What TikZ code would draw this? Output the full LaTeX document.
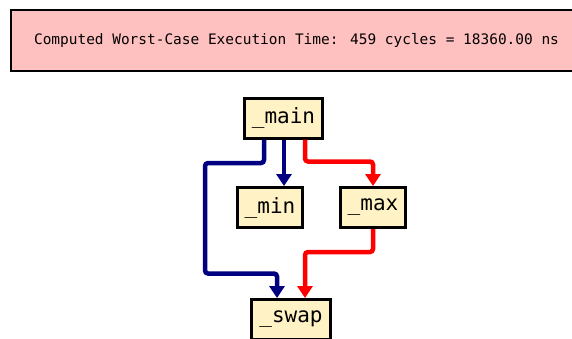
\documentclass[tikz,border=0pt]{standalone}
\usepackage{fontspec}
\newfontfamily\monofont{DejaVu Sans Mono}
\usetikzlibrary{arrows.meta}
\definecolor{bannerpink}{HTML}{FFC0C0}
\definecolor{boxyellow}{HTML}{FFF2C4}
\definecolor{callblue}{HTML}{000080}
\definecolor{callred}{HTML}{FF0000}
\tikzset{
  banner/.style={draw=black, line width=2pt, fill=bannerpink, inner sep=0pt,
    minimum width=571pt, minimum height=61pt, font=\monofont\fontsize{14.45pt}{16pt}\selectfont},
  fn/.style={draw=black, line width=3pt, fill=boxyellow, inner sep=0pt,
    minimum height=40pt, font=\monofont\fontsize{21pt}{24pt}\selectfont},
  call/.style={line width=4.5pt, rounded corners=3pt,
    -{Triangle[width=15pt,length=12pt]}},
  bluecall/.style={call, draw=callblue},
  redcall/.style={call, draw=callred},
}
\begin{document}
\begin{tikzpicture}[x=1pt,y=-1pt]
\useasboundingbox (0,0) rectangle (572,338);
\clip (0,0) rectangle (572,338);
% result banner
\node[banner] (banner) at (296.5,40) {Computed Worst-Case Execution Time: 459 cycles = 18360.00 ns};
% call graph nodes
\node[fn, minimum width=78pt] (main) at (283.5,118) {\_main};
\node[fn, minimum width=65pt] (min) at (270,207.5) {\_min};
\node[fn, minimum width=65pt] (max) at (373,207.5) {\_max};
\node[fn, minimum width=79pt] (swap) at (291,319.5) {\_swap};
% coordinates for the bends
\coordinate (bA) at (205,163);
\coordinate (bB) at (305,252);
% calls from _main
\draw[bluecall] ([xshift=-19.5pt]main.south) |- (bA) |- ([xshift=-14pt,yshift=24.5pt]swap.north) -- ([xshift=-14pt]swap.north);
\draw[bluecall] ([xshift=0.5pt]main.south) -- ([xshift=0.5pt]main.south |- min.north);
\draw[redcall] ([xshift=21.5pt]main.south) |- ([yshift=24.5pt]max.north) -- (max.north);
% call from _max
\draw[redcall] (max.south) |- (bB) -- ([xshift=14pt]swap.north);
\end{tikzpicture}
\end{document}
